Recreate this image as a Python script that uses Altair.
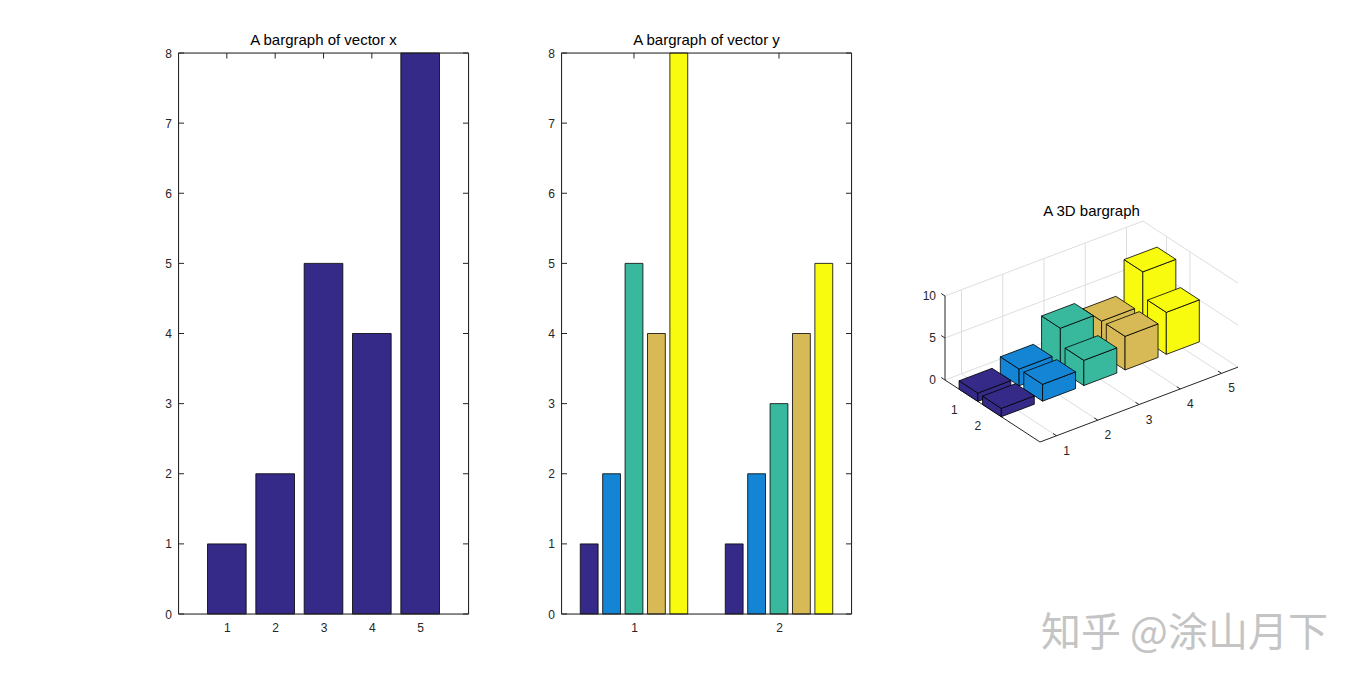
import altair as alt
import pandas as pd

# ---------------- data ----------------
x_cats = [1, 2, 3, 4, 5]
x_vals = [1, 2, 5, 4, 8]
y_groups = [1, 2]
y_series = [1, 2, 3, 4, 5]
y_row1 = [1, 2, 5, 4, 8]
y_row2 = [1, 2, 3, 4, 5]
y_ticks = [0, 1, 2, 3, 4, 5, 6, 7, 8]
z_ticks = [0, 5, 10]
parula5 = ["#352A87", "#1485D4", "#38B99E", "#D7BA55", "#F9FB0E"]
titles = ["A bargraph of vector x", "A bargraph of vector y", "A 3D bargraph"]
watermark = "知乎 @涂山月下"

# ---------------- style ----------------
FONT = "Liberation Sans"
AX = "#262626"
GRID = "#DEDEDE"
W, H = 290, 561
TICK = 5.5
BAR_W1 = 0.8
SLOT = 0.1545
BAR_W2 = 0.123
TITLE_SIZE = 15
LABEL_SIZE = 12


def axis_x(values):
    return alt.Axis(values=values, format="d", ticks=False, tickSize=0, domain=False, grid=False,
                    labelFontSize=LABEL_SIZE, labelColor=AX, labelFont=FONT, labelPadding=8,
                    labelFlush=False, labelOverlap=False, title=None)


def axis_y(values):
    return alt.Axis(values=values, format="d", ticks=False, tickSize=0, domain=False, grid=False,
                    labelFontSize=LABEL_SIZE, labelColor=AX, labelFont=FONT, labelPadding=7,
                    labelFlush=False, labelOverlap=False, title=None)


def frame():
    return alt.Chart(pd.DataFrame({"k": [0]})).mark_rect(
        filled=False, stroke=AX, strokeWidth=1
    ).encode(x=alt.value(0), x2=alt.value(W), y=alt.value(0), y2=alt.value(H))


def inner_ticks(xvals, xs, xax, yvals, ys, yax):
    dx = pd.DataFrame({"t": xvals})
    dy = pd.DataFrame({"t": yvals})
    rule = dict(color=AX, strokeWidth=1)
    top = alt.Chart(dx).mark_rule(**rule).encode(
        x=alt.X("t:Q", scale=xs, axis=xax), y=alt.value(0), y2=alt.value(TICK))
    bot = alt.Chart(dx).mark_rule(**rule).encode(
        x=alt.X("t:Q", scale=xs, axis=xax), y=alt.value(H - TICK), y2=alt.value(H))
    left = alt.Chart(dy).mark_rule(**rule).encode(
        y=alt.Y("t:Q", scale=ys, axis=yax), x=alt.value(0), x2=alt.value(TICK))
    right = alt.Chart(dy).mark_rule(**rule).encode(
        y=alt.Y("t:Q", scale=ys, axis=yax), x=alt.value(W - TICK), x2=alt.value(W))
    return [top, bot, left, right]


def title_params(text):
    return alt.TitleParams(text, fontSize=TITLE_SIZE, font=FONT, fontWeight="normal",
                           color="black", anchor="middle", offset=-1)


ys = alt.Scale(domain=[0, 8], nice=False, zero=True)
yax = axis_y(y_ticks)

# ---------------- panel 1 ----------------
xs1 = alt.Scale(domain=[0, len(x_cats) + 1], nice=False, zero=False)
xax1 = axis_x(x_cats)
df1 = pd.DataFrame({"cat": x_cats, "val": x_vals})
bars1 = alt.Chart(df1).transform_calculate(
    lo=f"datum.cat - {BAR_W1 / 2}", hi=f"datum.cat + {BAR_W1 / 2}", base="0"
).mark_bar(fill=parula5[0], stroke="black", strokeWidth=0.8).encode(
    x=alt.X("lo:Q", scale=xs1, axis=xax1),
    x2="hi:Q",
    y=alt.Y("val:Q", scale=ys, axis=yax),
    y2="base:Q",
)
p1 = alt.layer(*inner_ticks(x_cats, xs1, xax1, y_ticks, ys, yax), bars1, frame()).properties(
    width=W, height=H, title=title_params(titles[0]))

# ---------------- panel 2 ----------------
xs2 = alt.Scale(domain=[0.5, len(y_groups) + 0.5], nice=False, zero=False)
xax2 = axis_x(y_groups)
rows = []
for g, vals in zip(y_groups, [y_row1, y_row2]):
    for s, v in zip(y_series, vals):
        rows.append({"group": g, "series": s, "val": v})
df2 = pd.DataFrame(rows)
mid = (len(y_series) + 1) / 2
bars2 = alt.Chart(df2).transform_calculate(
    ctr=f"datum.group + (datum.series - {mid}) * {SLOT}", base="0"
).transform_calculate(
    lo=f"datum.ctr - {BAR_W2 / 2}", hi=f"datum.ctr + {BAR_W2 / 2}"
).mark_bar(stroke="black", strokeWidth=0.8).encode(
    x=alt.X("lo:Q", scale=xs2, axis=xax2),
    x2="hi:Q",
    y=alt.Y("val:Q", scale=ys, axis=yax),
    y2="base:Q",
    fill=alt.Fill("series:O", scale=alt.Scale(domain=y_series, range=parula5), legend=None),
)
p2 = alt.layer(*inner_ticks(y_groups, xs2, xax2, y_ticks, ys, yax), bars2, frame()).properties(
    width=W, height=H, title=title_params(titles[1]))

# ---------------- panel 3 (3D bars, projected) ----------------
W3 = 400
ORIGIN = (0.5, 327.0)          # local pixel of (col=C_MIN, row=R_MIN, z=0)
E_COL = (41.25, -15.6)         # pixels per column unit
E_ROW = (23.46, 15.31)         # pixels per row unit
E_Z = (0.0, -8.4)              # pixels per z unit
C_MIN, C_MAX = 0.6, 5.4
R_MIN, R_MAX = 0.0, 4.05
Z_MAX = 10
HALF = 0.4


def proj(c, r, z):
    return [ORIGIN[0] + (c - C_MIN) * E_COL[0] + (r - R_MIN) * E_ROW[0] + z * E_Z[0],
            ORIGIN[1] + (c - C_MIN) * E_COL[1] + (r - R_MIN) * E_ROW[1] + z * E_Z[1]]


def line_feat(pts):
    return {"type": "Feature", "properties": {},
            "geometry": {"type": "LineString", "coordinates": [proj(*p) for p in pts]}}


Z = [y_row1, y_row2]
rows3 = list(range(1, len(Z) + 1))
cols3 = list(range(1, len(Z[0]) + 1))

grid_feats = []
for c in cols3:
    grid_feats.append(line_feat([(c, R_MIN, 0), (c, R_MAX, 0)]))
    grid_feats.append(line_feat([(c, R_MIN, 0), (c, R_MIN, Z_MAX)]))
for r in rows3:
    grid_feats.append(line_feat([(C_MIN, r, 0), (C_MAX, r, 0)]))
    grid_feats.append(line_feat([(C_MAX, r, 0), (C_MAX, r, Z_MAX)]))
for z in z_ticks:
    grid_feats.append(line_feat([(C_MIN, R_MIN, z), (C_MAX, R_MIN, z), (C_MAX, R_MAX, z)]))

axis_feats = [
    line_feat([(C_MIN, R_MIN, 0), (C_MIN, R_MIN, Z_MAX)]),
    line_feat([(C_MIN, R_MIN, 0), (C_MIN, R_MAX, 0)]),
    line_feat([(C_MIN, R_MAX, 0), (C_MAX, R_MAX, 0)]),
]
for z in z_ticks:
    axis_feats.append(line_feat([(C_MIN, R_MIN, z), (C_MIN, R_MIN - 0.16, z)]))
for r in rows3:
    axis_feats.append(line_feat([(C_MIN, r, 0), (C_MIN + 0.1, r, 0)]))
for c in cols3:
    axis_feats.append(line_feat([(c, R_MAX, 0), (c, R_MAX - 0.15, 0)]))

bar_feats = []
for ri, r in enumerate(rows3):                 # back row first
    for ci in reversed(range(len(cols3))):     # far column first
        c = cols3[ci]
        h = Z[ri][ci]
        c0, c1, r0, r1 = c - HALF, c + HALF, r - HALF, r + HALF
        faces = [
            [(c0, r0, 0), (c0, r1, 0), (c0, r1, h), (c0, r0, h)],
            [(c0, r1, 0), (c1, r1, 0), (c1, r1, h), (c0, r1, h)],
            [(c0, r0, h), (c1, r0, h), (c1, r1, h), (c0, r1, h)],
        ]
        for f in faces:
            ring = [proj(*p) for p in f]
            ring.append(ring[0])
            bar_feats.append({"type": "Feature", "properties": {"fill": parula5[ci]},
                              "geometry": {"type": "Polygon", "coordinates": [ring]}})

PROJ = dict(type="identity", scale=1, translate=[0, 0])

grid_layer = alt.Chart(alt.Data(values=grid_feats)).mark_geoshape(
    filled=False, stroke=GRID, strokeWidth=1, clip=False).project(**PROJ)
axis_layer = alt.Chart(alt.Data(values=axis_feats)).mark_geoshape(
    filled=False, stroke=AX, strokeWidth=1, clip=False).project(**PROJ)
bar_layer = alt.Chart(alt.Data(values=bar_feats)).mark_geoshape(
    stroke="black", strokeWidth=0.8, fillOpacity=1, clip=False).encode(
    fill=alt.Fill("properties.fill:N", scale=None)).project(**PROJ)

zl = pd.DataFrame({"label": [str(z) for z in z_ticks],
                   "lon": [proj(C_MIN, R_MIN, z)[0] - 9 for z in z_ticks],
                   "lat": [proj(C_MIN, R_MIN, z)[1] for z in z_ticks]})
rl = pd.DataFrame({"label": [str(r) for r in rows3],
                   "lon": [proj(C_MIN, r, 0)[0] - 14 for r in rows3],
                   "lat": [proj(C_MIN, r, 0)[1] + 15 for r in rows3]})
cl = pd.DataFrame({"label": [str(c) for c in cols3],
                   "lon": [proj(c, R_MAX, 0)[0] + 10 for c in cols3],
                   "lat": [proj(c, R_MAX, 0)[1] + 15 for c in cols3]})

txt = dict(font=FONT, fontSize=LABEL_SIZE, color=AX, baseline="middle", clip=False)
zl_layer = alt.Chart(zl).mark_text(align="right", **txt).encode(
    longitude="lon:Q", latitude="lat:Q", text="label:N").project(**PROJ)
rl_layer = alt.Chart(rl).mark_text(align="center", **txt).encode(
    longitude="lon:Q", latitude="lat:Q", text="label:N").project(**PROJ)
cl_layer = alt.Chart(cl).mark_text(align="center", **txt).encode(
    longitude="lon:Q", latitude="lat:Q", text="label:N").project(**PROJ)

box_left = proj(C_MIN, R_MIN, 0)[0]
box_right = proj(C_MAX, R_MAX, 0)[0]
box_top = proj(C_MAX, R_MIN, Z_MAX)[1]
t3 = pd.DataFrame({"label": [titles[2]], "lon": [(box_left + box_right) / 2], "lat": [box_top - 10]})
t3_layer = alt.Chart(t3).mark_text(font=FONT, fontSize=TITLE_SIZE, color="black",
                                   align="center", baseline="middle", clip=False).encode(
    longitude="lon:Q", latitude="lat:Q", text="label:N").project(**PROJ)

wm = pd.DataFrame({"label": [watermark], "lon": [240.0], "lat": [581.0]})
wm_layer = alt.Chart(wm).mark_text(font="Noto Sans CJK SC", fontSize=40, color="#C4C4C4",
                                   align="center", baseline="middle", clip=False).encode(
    longitude="lon:Q", latitude="lat:Q", text="label:N").project(**PROJ)

p3 = alt.layer(grid_layer, axis_layer, bar_layer, zl_layer, rl_layer, cl_layer,
               t3_layer, wm_layer).properties(width=W3, height=H)

chart = alt.hconcat(p1, p2, p3, spacing=93, bounds="flush").properties(
    padding={"left": 155.5, "top": 24, "right": 5, "bottom": 5}
).configure_view(strokeWidth=0).configure(font=FONT)

chart.save("out.html", embed_options={"renderer": "svg", "actions": False})
